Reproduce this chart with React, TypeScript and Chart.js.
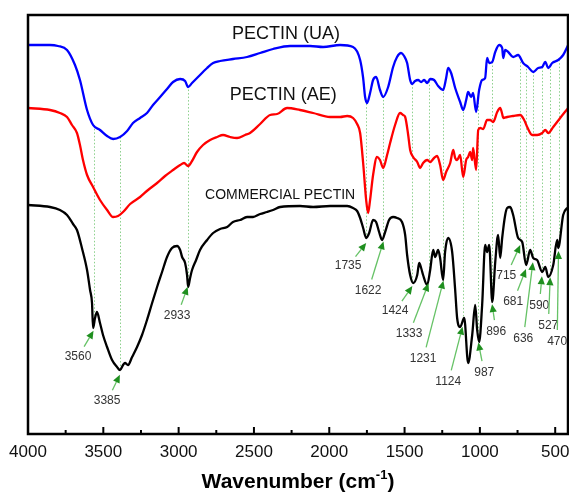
import React, { useEffect, useRef } from "react";
import { Chart, registerables } from "chart.js";

Chart.register(...registerables);

// ---------- data (arbitrary transmittance units, wavenumber in cm-1) ----------
const uaWavenumbers = [4000,3854,3801,3741,3688,3655,3608,3568,3522,3475,3435,3389,3342,3303,3256,3210,3170,3123,3077,3037,2990,2957,2937,2911,2878,2811,2771,2725,2639,2546,2459,2373,2260,2127,2041,1928,1842,1795,1775,1762,1749,1729,1709,1689,1663,1642,1609,1576,1550,1523,1503,1483,1463,1450,1430,1410,1390,1370,1350,1330,1304,1277,1244,1224,1211,1191,1164,1131,1111,1091,1078,1058,1045,1025,1005,985,965,952,938,918,898,872,852,845,832,812,779,746,713,680,646,613,586,566,546,520,480,447,414];
const uaValues = [389,389,388,384,369,354,324,309,304,298,295,297,303,311,316,321,329,337,345,352,355,353,347,351,356,366,371,373,375,377,381,385,388,388,387,389,387,374,356,337,331,341,354,357,344,337,347,367,377,381,378,371,354,350,353,354,352,354,351,355,354,348,344,356,366,361,346,332,324,334,342,337,341,322,344,354,356,376,371,372,382,389,386,376,384,382,377,379,371,367,362,366,367,372,366,371,374,379,389];

const aeWavenumbers = [4000,3854,3788,3741,3708,3675,3655,3635,3608,3568,3522,3475,3435,3402,3369,3322,3256,3203,3143,3090,3037,2990,2964,2937,2911,2878,2838,2791,2745,2705,2658,2612,2559,2526,2459,2393,2346,2280,2194,2107,1994,1928,1881,1842,1815,1795,1775,1755,1742,1729,1709,1683,1663,1642,1616,1596,1563,1530,1510,1496,1476,1463,1443,1416,1397,1377,1350,1330,1304,1284,1264,1244,1224,1197,1177,1164,1151,1131,1111,1091,1078,1065,1051,1045,1025,1011,998,978,952,932,912,885,865,852,845,819,779,732,706,686,653,620,586,566,546,513,467,414];
const aeValues = [326,324,321,317,309,301,289,274,259,247,234,224,217,218,222,230,237,244,251,258,264,269,271,268,273,282,289,294,297,299,297,296,299,301,310,319,320,326,324,321,317,317,318,316,310,301,271,234,221,234,259,277,274,266,279,291,309,321,319,317,299,284,277,272,266,271,274,272,276,278,269,254,262,271,284,276,274,279,257,274,277,282,274,286,264,304,306,305,314,314,312,322,326,320,316,317,318,319,314,307,299,299,301,304,301,307,316,326];

const comWavenumbers = [4000,3854,3788,3741,3701,3675,3642,3608,3588,3575,3568,3555,3542,3522,3502,3475,3442,3409,3389,3369,3356,3336,3309,3276,3243,3210,3176,3143,3110,3077,3044,3010,2990,2977,2957,2944,2937,2924,2911,2884,2858,2811,2771,2725,2678,2639,2592,2546,2506,2459,2413,2373,2326,2194,2107,1994,1881,1842,1815,1795,1775,1755,1735,1709,1689,1669,1649,1629,1603,1576,1550,1517,1496,1483,1463,1443,1416,1403,1390,1377,1350,1330,1310,1297,1277,1264,1244,1231,1211,1184,1164,1151,1131,1104,1078,1051,1031,1018,1005,985,965,952,938,918,898,879,865,852,832,819,799,779,746,719,693,666,646,620,586,566,546,513,487,480,447,414];
const comValues = [229,227,224,219,210,204,186,164,144,131,106,116,122,111,99,87,74,67,64,69,71,69,77,87,99,114,131,147,162,177,186,188,184,177,171,159,147,156,164,174,184,194,201,205,207,212,214,217,217,220,222,224,227,228,227,228,228,226,223,216,206,196,201,214,212,202,194,202,214,217,216,212,199,179,159,151,159,171,166,159,149,164,184,177,184,176,154,182,196,182,144,116,107,116,71,99,129,104,92,129,189,182,189,132,172,199,176,196,219,226,227,219,196,192,169,184,176,174,162,167,157,169,194,186,219,227];

const xTickValues = [4000, 3500, 3000, 2500, 2000, 1500, 1000, 500];
const xMinorTickValues = [3750, 3250, 2750, 2250, 1750, 1250, 750];

// band annotations on the commercial pectin spectrum
const peakLabels = ["3560","3385","2933","1735","1622","1424","1333","1231","1124","987","896","715","681","636","590","527","470"];
const peakMarkerWavenumbers = [3565,3390,2940,1755,1640,1448,1341,1242,1115,1010,919,732,694,648,588,533,478];

// ---------- annotation placement (data coordinates) ----------
const peakLabelPosW = [3668,3475,3010,1875,1742,1563,1470,1377,1210,971,892,825,779,712,606,546,487];
const peakLabelPosV = [77,33,118,168,143,123,100,75,52,61,102,158,132,95,128,108,92];
const seriesNames = ["PECTIN (UA)", "PECTIN (AE)", "COMMERCIAL PECTIN"];
const seriesNamePosW = [2287, 2306, 2326];
const seriesNamePosV = [400, 339, 239];
const seriesNameSizes = [18, 18, 14];

const FONT = '"Liberation Sans", Arial, Helvetica, sans-serif';

function interp(ws: number[], vs: number[], w: number): number {
  for (let i = 0; i < ws.length - 1; i++) {
    const a = ws[i], b = ws[i + 1];
    if ((w <= a && w >= b) || (w >= a && w <= b)) {
      const t = a === b ? 0 : (w - a) / (b - a);
      return vs[i] + t * (vs[i + 1] - vs[i]);
    }
  }
  return vs[vs.length - 1];
}

const toPoints = (ws: number[], vs: number[]) => ws.map((w, i) => ({ x: w, y: vs[i] }));

const decoPlugin = {
  id: "deco",
  beforeDatasetsDraw(chart: any) {
    const { ctx, scales } = chart;
    const x = scales.x, y = scales.y;
    ctx.save();
    ctx.strokeStyle = "#8cd08c";
    ctx.lineWidth = 1;
    ctx.setLineDash([1.5, 2]);
    peakMarkerWavenumbers.forEach((w) => {
      const px = Math.round(x.getPixelForValue(w)) + 0.5;
      const top = y.getPixelForValue(interp(uaWavenumbers, uaValues, w));
      const bot = y.getPixelForValue(interp(comWavenumbers, comValues, w));
      ctx.beginPath();
      ctx.moveTo(px, top);
      ctx.lineTo(px, bot);
      ctx.stroke();
    });
    ctx.restore();
  },
  afterDraw(chart: any) {
    const { ctx, chartArea, scales } = chart;
    const x = scales.x, y = scales.y;
    ctx.save();
    // frame
    ctx.strokeStyle = "#000";
    ctx.lineWidth = 2.5;
    ctx.strokeRect(chartArea.left, chartArea.top, chartArea.right - chartArea.left, chartArea.bottom - chartArea.top);
    // inward ticks
    ctx.lineWidth = 2;
    xTickValues.forEach((v) => {
      const px = x.getPixelForValue(v);
      ctx.beginPath();
      ctx.moveTo(px, chartArea.bottom);
      ctx.lineTo(px, chartArea.bottom - 7);
      ctx.stroke();
    });
    xMinorTickValues.forEach((v) => {
      const px = x.getPixelForValue(v);
      ctx.beginPath();
      ctx.moveTo(px, chartArea.bottom);
      ctx.lineTo(px, chartArea.bottom - 4);
      ctx.stroke();
    });
    // tick labels
    ctx.fillStyle = "#111";
    ctx.font = `17px ${FONT}`;
    ctx.textAlign = "center";
    ctx.textBaseline = "alphabetic";
    xTickValues.forEach((v) => {
      ctx.fillText(String(v), x.getPixelForValue(v), chartArea.bottom + 23);
    });

    // axis title with superscript
    const cx = (chartArea.left + chartArea.right) / 2;
    const baseY = 488;
    const mainFont = `bold 21px ${FONT}`;
    const supFont = `bold 13px ${FONT}`;
    ctx.fillStyle = "#000";
    ctx.textBaseline = "alphabetic";
    ctx.textAlign = "left";
    ctx.font = mainFont;
    const t1 = "Wavenumber (cm";
    const t3 = ")";
    const w1 = ctx.measureText(t1).width;
    const w3 = ctx.measureText(t3).width;
    ctx.font = supFont;
    const t2 = "-1";
    const w2 = ctx.measureText(t2).width;
    const sx = cx - (w1 + w2 + w3) / 2;
    ctx.font = mainFont;
    ctx.fillText(t1, sx, baseY);
    ctx.font = supFont;
    ctx.fillText(t2, sx + w1, baseY - 9);
    ctx.font = mainFont;
    ctx.fillText(t3, sx + w1 + w2, baseY);

    // series names
    ctx.textAlign = "center";
    ctx.textBaseline = "middle";
    seriesNames.forEach((name, i) => {
      ctx.font = `${seriesNameSizes[i]}px ${FONT}`;
      ctx.fillStyle = "#111";
      ctx.fillText(name, x.getPixelForValue(seriesNamePosW[i]), y.getPixelForValue(seriesNamePosV[i]));
    });

    // peak labels and arrows
    peakLabels.forEach((label, i) => {
      const w = peakMarkerWavenumbers[i];
      const tipX = x.getPixelForValue(w);
      const tipY = y.getPixelForValue(interp(comWavenumbers, comValues, w)) + 5;
      const lx = x.getPixelForValue(peakLabelPosW[i]);
      const ly = y.getPixelForValue(peakLabelPosV[i]);
      const dx = tipX - lx, dy = tipY - ly;
      const len = Math.hypot(dx, dy);
      const ux = dx / len, uy = dy / len;
      const tailX = lx + ux * 12, tailY = ly + uy * 12;
      const headLen = 8, headW = 3.6;
      const bX = tipX - ux * headLen, bY = tipY - uy * headLen;
      ctx.strokeStyle = "#66c266";
      ctx.lineWidth = 1.3;
      ctx.beginPath();
      ctx.moveTo(tailX, tailY);
      ctx.lineTo(bX, bY);
      ctx.stroke();
      ctx.fillStyle = "#1f8f1f";
      ctx.beginPath();
      ctx.moveTo(tipX, tipY);
      ctx.lineTo(bX - uy * headW, bY + ux * headW);
      ctx.lineTo(bX + uy * headW, bY - ux * headW);
      ctx.closePath();
      ctx.fill();
      ctx.font = `12px ${FONT}`;
      ctx.fillStyle = "#333";
      ctx.fillText(label, lx, ly);
    });
    ctx.restore();
  },
};

export default function App() {
  const canvasRef = useRef<HTMLCanvasElement | null>(null);

  useEffect(() => {
    document.body.style.margin = "0";
    const canvas = canvasRef.current;
    if (!canvas) return;
    const lineDs = (label: string, ws: number[], vs: number[], color: string) => ({
      label,
      data: toPoints(ws, vs),
      borderColor: color,
      backgroundColor: color,
      borderWidth: 2.3,
      pointRadius: 0,
      cubicInterpolationMode: "monotone" as const,
      fill: false,
    });
    const chart = new Chart(canvas, {
      type: "line",
      data: {
        datasets: [
          lineDs("PECTIN (UA)", uaWavenumbers, uaValues, "#0000ff"),
          lineDs("PECTIN (AE)", aeWavenumbers, aeValues, "#ff0000"),
          lineDs("COMMERCIAL PECTIN", comWavenumbers, comValues, "#000000"),
        ],
      },
      options: {
        animation: false,
        responsive: false,
        layout: { padding: { left: 28, right: 1, top: 15, bottom: 58 } },
        plugins: { legend: { display: false }, tooltip: { enabled: false } },
        scales: {
          x: { type: "linear", reverse: true, min: 415, max: 4000, display: false },
          y: { display: false, min: 0, max: 419 },
        },
      },
      plugins: [decoPlugin],
    });
    return () => chart.destroy();
  }, []);

  return (
    <div style={{ width: 569, height: 492 }}>
      <canvas ref={canvasRef} width={569} height={492} style={{ display: "block" }} />
    </div>
  );
}
